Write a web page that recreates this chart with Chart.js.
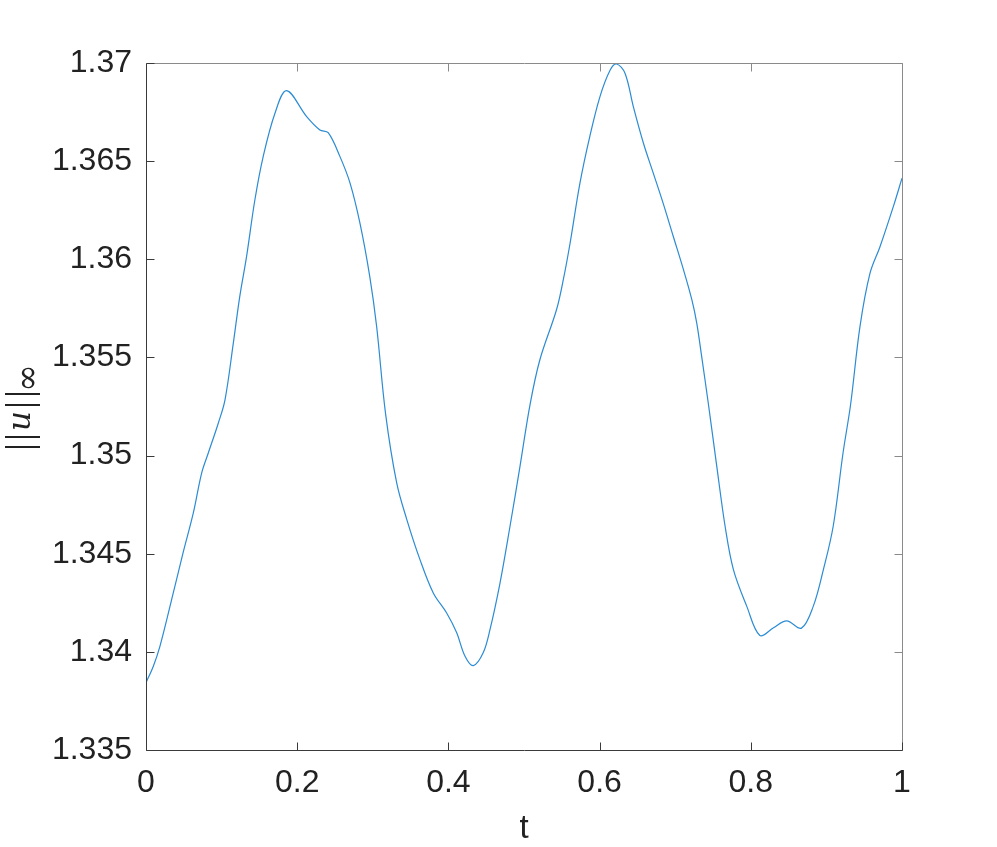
<!DOCTYPE html>
<html lang="en">
<head>
  <meta charset="UTF-8">
  <title>Max norm of u over time</title>
  <style>
    html, body { margin: 0; padding: 0; background: #fff; }
    #wrap { width: 997px; height: 847px; }
  </style>
  <script src="https://cdn.jsdelivr.net/npm/chart.js"></script>
</head>
<body>
  <div id="wrap"><canvas id="normChart"></canvas></div>

  <script>
    // time samples and ||u||_inf
    var tValues = [0, 0.0097, 0.0185, 0.036, 0.049, 0.0626, 0.0736, 0.0824, 0.0957, 0.1045,
      0.1155, 0.124, 0.133, 0.144, 0.155, 0.1706, 0.186, 0.2125, 0.230, 0.241,
      0.2566, 0.270, 0.283, 0.296, 0.305, 0.317, 0.3316, 0.345, 0.3624, 0.380,
      0.3977, 0.411, 0.422, 0.433, 0.446, 0.455, 0.468, 0.4815, 0.4947, 0.508,
      0.521, 0.543, 0.552, 0.561, 0.574, 0.587, 0.6005, 0.614, 0.6226, 0.6336,
      0.6446, 0.658, 0.671, 0.684, 0.6975, 0.711, 0.722, 0.7285, 0.735, 0.744,
      0.755, 0.766, 0.777, 0.7946, 0.812, 0.830, 0.8475, 0.867, 0.8827, 0.896,
      0.909, 0.922, 0.932, 0.9444, 0.9577, 0.971, 0.9885, 1.0];
    var uNorm = [1.33843, 1.33927, 1.34029, 1.34299, 1.34504, 1.34708, 1.34911, 1.35013, 1.35166, 1.35284,
      1.35573, 1.35810, 1.36014, 1.36302, 1.36523, 1.36744, 1.36859, 1.36727, 1.36659, 1.36645,
      1.36523, 1.36387, 1.36184, 1.35912, 1.35660, 1.35210, 1.34861, 1.34674, 1.34470, 1.34300,
      1.34198, 1.34097, 1.33978, 1.33930, 1.33995, 1.34113, 1.34345, 1.34640, 1.34945, 1.35260,
      1.35488, 1.35743, 1.35896, 1.36083, 1.36388, 1.36625, 1.36829, 1.36964, 1.36995, 1.36948,
      1.36778, 1.36591, 1.36439, 1.36286, 1.36116, 1.35946, 1.35794, 1.35675, 1.35505, 1.35260,
      1.34945, 1.34640, 1.34419, 1.34233, 1.34083, 1.34123, 1.34158, 1.34121, 1.34233, 1.34419,
      1.34640, 1.35013, 1.35260, 1.35657, 1.35929, 1.36065, 1.36268, 1.36413];

    var xTicks = [0, 0.2, 0.4, 0.6, 0.8, 1];
    var yTicks = [1.335, 1.34, 1.345, 1.35, 1.355, 1.36, 1.365, 1.37];

    var points = tValues.map(function(t, i) { return { x: t, y: uNorm[i] }; });

    var fontFamily = '"Liberation Sans", Helvetica, Arial, sans-serif';
    var textColor = '#222';

    // box around the axes with inward ticks on all four sides, plus axis titles
    var framePlugin = {
      id: 'frame',
      afterDraw: function(chart) {
        var ctx = chart.ctx;
        var a = chart.chartArea;
        var xs = chart.scales.x, ys = chart.scales.y;
        var tick = 8;
        var L = Math.round(a.left) + 0.5, R = Math.round(a.right) + 0.5;
        var T = Math.round(a.top) + 0.5, B = Math.round(a.bottom) + 0.5;
        ctx.save();
        ctx.lineWidth = 1;

        // top and right edges, lighter
        ctx.strokeStyle = '#8a8a8a';
        ctx.beginPath();
        ctx.moveTo(L, T); ctx.lineTo(R, T); ctx.lineTo(R, B);
        xTicks.forEach(function(v) {
          var px = Math.round(xs.getPixelForValue(v)) + 0.5;
          ctx.moveTo(px, T); ctx.lineTo(px, T + tick);
        });
        yTicks.forEach(function(v) {
          var py = Math.round(ys.getPixelForValue(v)) + 0.5;
          ctx.moveTo(R, py); ctx.lineTo(R - tick, py);
        });
        ctx.stroke();

        // left and bottom edges, darker
        ctx.strokeStyle = '#3a3a3a';
        ctx.beginPath();
        ctx.moveTo(L, T); ctx.lineTo(L, B); ctx.lineTo(R, B);
        xTicks.forEach(function(v) {
          var px = Math.round(xs.getPixelForValue(v)) + 0.5;
          ctx.moveTo(px, B); ctx.lineTo(px, B - tick);
        });
        yTicks.forEach(function(v) {
          var py = Math.round(ys.getPixelForValue(v)) + 0.5;
          ctx.moveTo(L, py); ctx.lineTo(L + tick, py);
        });
        ctx.stroke();

        // x label
        ctx.fillStyle = textColor;
        ctx.font = '33px ' + fontFamily;
        ctx.textAlign = 'center';
        ctx.textBaseline = 'alphabetic';
        ctx.fillText('t', (a.left + a.right) / 2, 838);

        // y label: ||u||_inf, rotated, reading bottom to top
        ctx.translate(0, 449);
        ctx.rotate(-Math.PI / 2);
        var bar = '38px "Liberation Serif", "DejaVu Serif", serif';
        var it = 'italic 31px "DejaVu Serif", "Liberation Serif", serif';
        var inf = '33px "DejaVu Serif", serif';
        ctx.textAlign = 'center';
        // [text, font, position along the label, baseline]
        var parts = [
          ['|', bar, 2, 32], ['|', bar, 12, 32],
          ['u', it, 28, 30],
          ['|', bar, 44, 32], ['|', bar, 55, 32],
          ['\u221E', inf, 71, 38]
        ];
        parts.forEach(function(p) {
          ctx.font = p[1];
          ctx.fillText(p[0], p[2], p[3]);
        });
        ctx.restore();
      }
    };

    new Chart('normChart', {
      type: 'scatter',
      data: {
        datasets: [{
          data: points,
          showLine: true,
          borderColor: '#2b8bd3',
          borderWidth: 1.2,
          pointRadius: 0,
          tension: 0.35,
          fill: false
        }]
      },
      options: {
        responsive: true,
        maintainAspectRatio: false,
        animation: false,
        layout: { padding: { top: 63, right: 95, left: 0, bottom: 0 } },
        plugins: { legend: { display: false }, tooltip: { enabled: false } },
        scales: {
          x: {
            type: 'linear',
            min: 0, max: 1,
            afterFit: function(s) { s.height = 97; },
            afterBuildTicks: function(s) { s.ticks = xTicks.map(function(v) { return { value: v }; }); },
            grid: { display: false, drawTicks: false },
            border: { display: false },
            ticks: {
              padding: 14,
              color: textColor,
              font: { family: fontFamily, size: 32 },
              callback: function(v) { return String(+v.toFixed(1)); }
            }
          },
          y: {
            type: 'linear',
            min: 1.335, max: 1.37,
            afterFit: function(s) { s.width = 146; },
            afterBuildTicks: function(s) { s.ticks = yTicks.map(function(v) { return { value: v }; }); },
            grid: { display: false, drawTicks: false },
            border: { display: false },
            ticks: {
              padding: 14,
              color: textColor,
              font: { family: fontFamily, size: 32 },
              callback: function(v) { return String(+v.toFixed(3)); }
            }
          }
        }
      },
      plugins: [framePlugin]
    });
  </script>
</body>
</html>
